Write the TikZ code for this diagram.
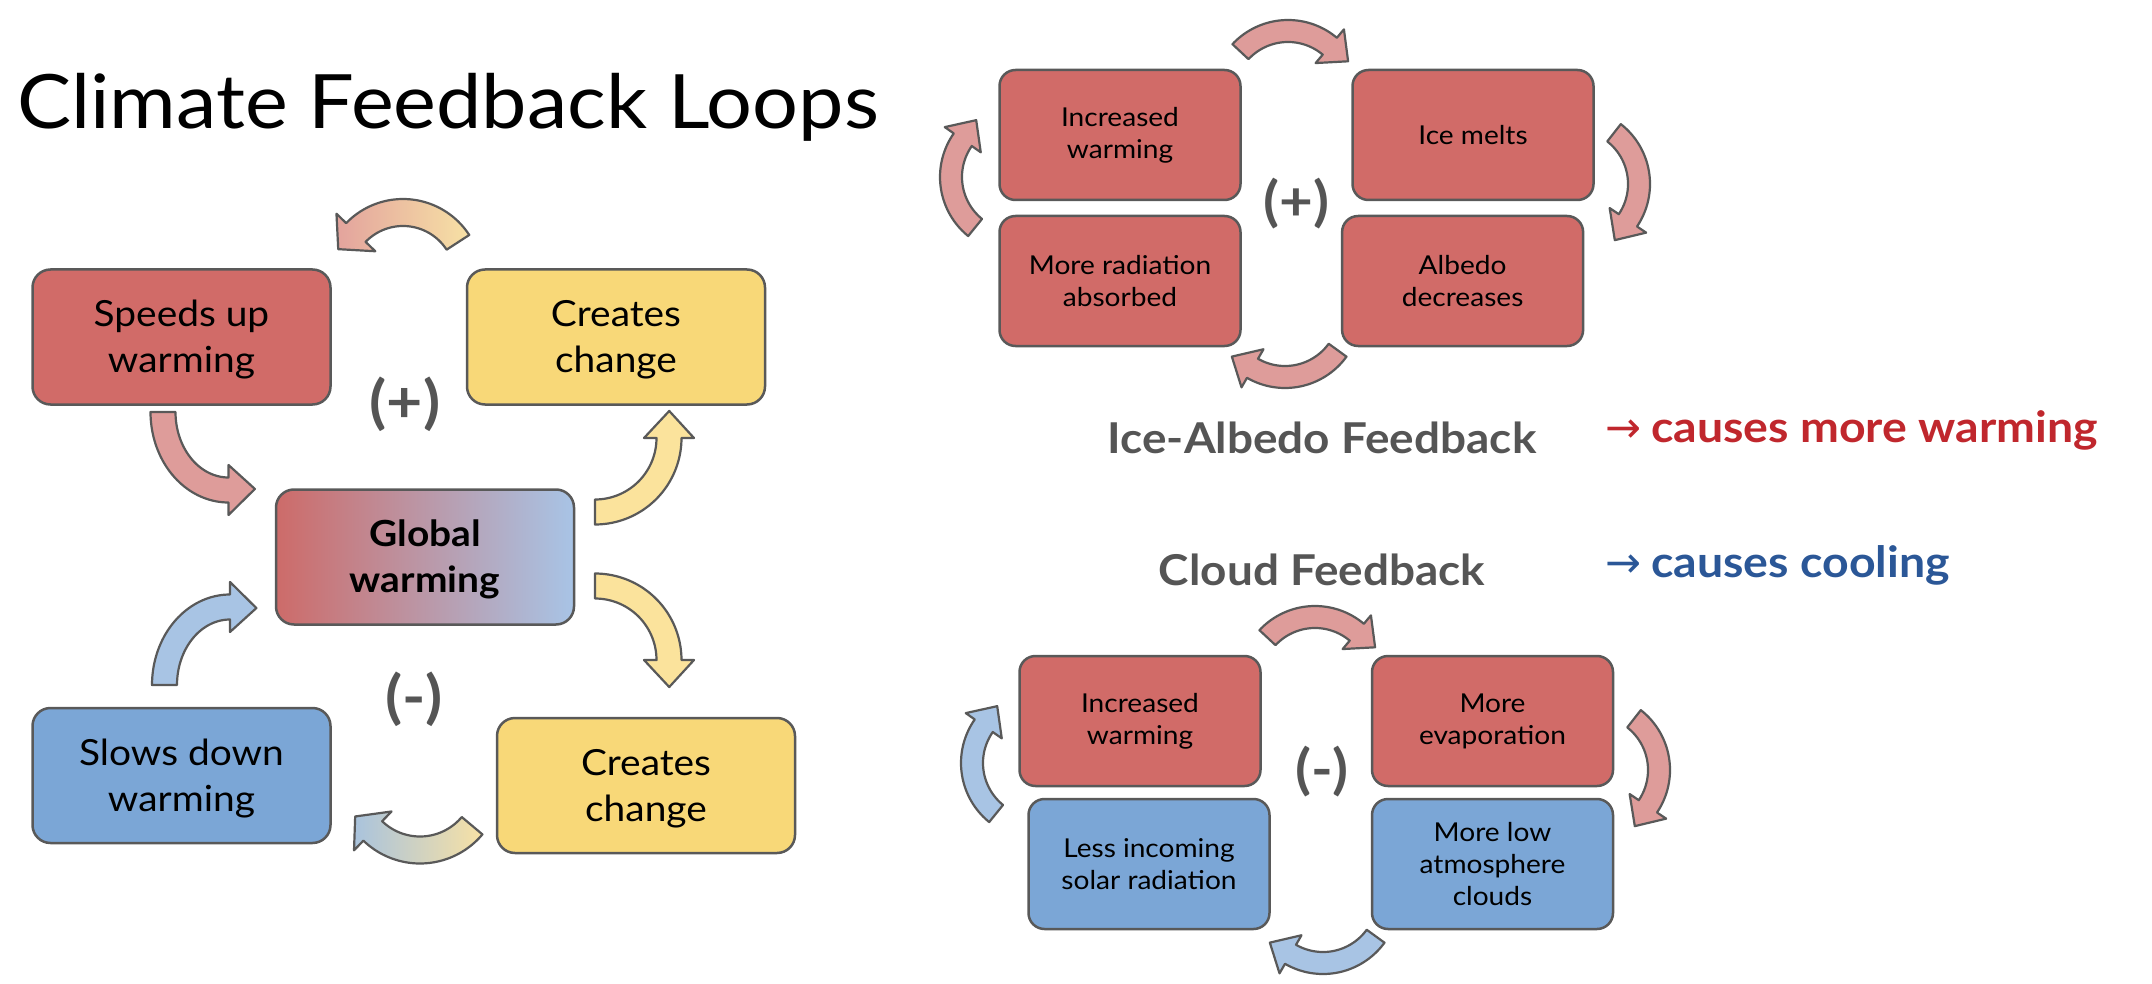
\documentclass[tikz,border=0pt]{standalone}
\usepackage{fontspec}
\setmainfont{Lato}[FakeStretch=1.08]
\newfontfamily\symfont{DejaVu Sans}
\definecolor{edge}{HTML}{595959}
\definecolor{boxred}{HTML}{D16B68}
\definecolor{boxyel}{HTML}{F8D878}
\definecolor{boxblue}{HTML}{7BA6D6}
\definecolor{gwred}{HTML}{CD6B69}
\definecolor{gwblue}{HTML}{A8C4E6}
\definecolor{lred}{HTML}{DE9C9A}
\definecolor{lyel}{HTML}{FBE39C}
\definecolor{lblue}{HTML}{A8C4E4}
\definecolor{pinkg}{HTML}{E3A39D}
\definecolor{yelg}{HTML}{F7E1A5}
\definecolor{bluegr}{HTML}{A9C3DD}
\definecolor{gtext}{HTML}{555555}
\definecolor{warmred}{HTML}{C0272D}
\definecolor{coolblue}{HTML}{2B5797}
% curved block arrow: #1 cx, #2 cy, #3 rx, #4 ry, #5 half width, #6 tail angle, #7 head base angle, #8 tip angle, #9 style
\newcommand\carrow[9]{%
  \pgfmathsetmacro\qoX{#3+#5}\pgfmathsetmacro\qoY{#4+#5}%
  \pgfmathsetmacro\qiX{#3-#5}\pgfmathsetmacro\qiY{#4-#5}%
  \pgfmathsetmacro\qbX{#3+2*#5}\pgfmathsetmacro\qbY{#4+2*#5}%
  \pgfmathsetmacro\qcX{#3-2*#5}\pgfmathsetmacro\qcY{#4-2*#5}%
  \pgfmathsetmacro\qtX{#3+0.4*#5}\pgfmathsetmacro\qtY{#4+0.4*#5}%
  \path[#9] plot[domain=#6:#7, samples=40] ({#1+\qoX*cos(\x)},{#2+\qoY*sin(\x)})
    -- ({#1+\qbX*cos(#7)},{#2+\qbY*sin(#7)})
    -- ({#1+\qtX*cos(#8)},{#2+\qtY*sin(#8)})
    -- ({#1+\qcX*cos(#7)},{#2+\qcY*sin(#7)})
    -- plot[domain=#7:#6, samples=40] ({#1+\qiX*cos(\x)},{#2+\qiY*sin(\x)})
    -- cycle;}
\begin{document}
\begin{tikzpicture}[x=1pt,y=-1pt,
  bx/.style={draw=edge, line width=2.5pt, inner sep=0pt, align=center, text=black},
  bigbox/.style={bx, rounded corners=18pt, minimum width=298pt, minimum height=135pt, font=\fontsize{36}{46}\selectfont},
  smallbox/.style={bx, rounded corners=16pt, minimum width=241pt, minimum height=130pt, font=\fontsize{26}{32}\selectfont},
  arw/.style={draw=edge, line width=2.2pt, line join=round},
  sign/.style={text=gtext, font=\bfseries\fontsize{58}{64}\selectfont, inner sep=0pt},
  fbtitle/.style={text=gtext, font=\bfseries\fontsize{42.5}{50}\selectfont, inner sep=0pt, anchor=base},
  note/.style={font=\bfseries\fontsize{43}{50}\selectfont, inner sep=0pt, anchor=base west}]
\useasboundingbox (0,0) rectangle (2152,984);

% title
\node[anchor=base west, inner sep=0pt, font=\fontsize{75}{90}\selectfont] (title) at (17,129) {Climate Feedback Loops};

% ---------- left panel ----------
\node[bigbox, fill=boxred] (speeds) at (181.5,337) {\strut Speeds up\\warming};
\node[bigbox, fill=boxyel] (cctop) at (616,337) {\strut Creates\\change};
\node[bigbox, left color=gwred, right color=gwblue, font=\bfseries\fontsize{36}{46}\selectfont] (global) at (425,557) {\strut Global\\warming};
\node[bigbox, fill=boxblue] (slows) at (181.5,775.5) {\strut Slows down\\warming};
\node[bigbox, fill=boxyel] (ccbot) at (646,785.5) {\strut Creates\\change};
\node[sign] (plusL) at (405,404) {(+)};
\node[sign] (minusL) at (414,699) {(-)};

\carrow{403}{278}{65.5}{65.5}{13.5}{-33}{-136}{-156}{arw, left color=pinkg, right color=yelg}
\carrow{228.5}{412}{65.5}{78}{12.5}{180}{90}{68}{arw, fill=lred}
\carrow{595}{438}{74}{74}{12.5}{90}{0}{-20}{arw, fill=lyel}
\carrow{595}{660}{74}{74}{12.5}{-90}{0}{20}{arw, fill=lyel}
\carrow{230}{685}{65.5}{78}{12.5}{180}{270}{292}{arw, fill=lblue}
\carrow{420}{782}{68}{68}{13.5}{40}{134}{152}{arw, left color=bluegr, right color=yelg}

% ---------- ice-albedo panel ----------
\node[smallbox, fill=boxred] (iw) at (1120,135) {Increased\\warming};
\node[smallbox, fill=boxred] (im) at (1473,135) {Ice melts};
\node[smallbox, fill=boxred] (mr) at (1120,281) {More radiation\\absorbed};
\node[smallbox, fill=boxred] (ad) at (1462.6,281) {Albedo\\decreases};
\node[sign, font=\bfseries\fontsize{54}{60}\selectfont] (plusR) at (1296.6,203.5) {(+)};

\carrow{1288}{96}{65}{65}{11}{-137}{-50}{-30}{arw, fill=lred}
\carrow{1574}{184}{65}{65}{11}{-52}{34}{54}{arw, fill=lred}
\carrow{1285}{312}{65}{65}{11}{36}{120}{140}{arw, fill=lred}
\carrow{1016}{177}{65}{65}{11}{129}{215}{235}{arw, fill=lred}

\node[fbtitle] (iatitle) at (1322,453) {Ice-Albedo Feedback};
\node[note, text=warmred] (warmnote) at (1605,442) {{\symfont\mdseries →}\hspace{10pt}causes more warming};

% ---------- cloud panel ----------
\node[fbtitle] (cltitle) at (1322,585) {Cloud Feedback};
\node[note, text=coolblue] (coolnote) at (1605,577) {{\symfont\mdseries →}\hspace{10pt}causes cooling};

\node[smallbox, fill=boxred] (ciw) at (1140,721) {Increased\\warming};
\node[smallbox, fill=boxred] (cme) at (1492.5,721) {More\\evaporation};
\node[smallbox, fill=boxblue] (cls) at (1149,864) {Less incoming\\solar radiation};
\node[smallbox, fill=boxblue] (cml) at (1492.5,864) {More low\\atmosphere\\clouds};
\node[sign, font=\bfseries\fontsize{54}{60}\selectfont] (minusR) at (1322,772) {(-)};

\carrow{1315}{682}{65}{65}{11}{-137}{-50}{-30}{arw, fill=lred}
\carrow{1594}{770}{65}{65}{11}{-52}{34}{54}{arw, fill=lred}
\carrow{1323}{898}{65}{65}{11}{36}{120}{140}{arw, fill=lblue}
\carrow{1037}{763}{65}{65}{11}{129}{215}{235}{arw, fill=lblue}
\end{tikzpicture}
\end{document}
